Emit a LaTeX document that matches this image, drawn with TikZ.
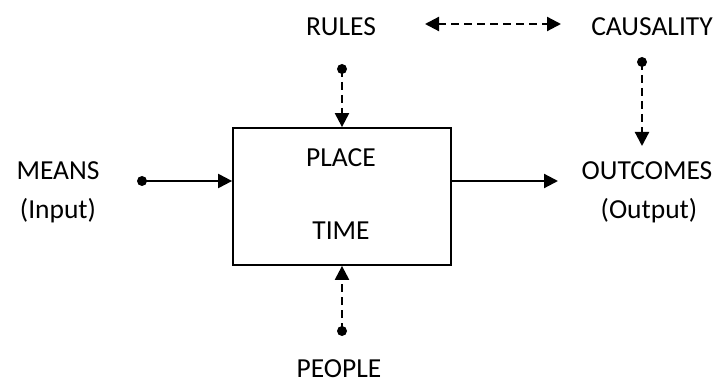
\documentclass[tikz,border=0pt]{standalone}
\usepackage{fontspec}
\setmainfont{Carlito}
\usetikzlibrary{arrows.meta}
\begin{document}
\begin{tikzpicture}[x=1pt,y=-1pt,
  lbl/.style={font=\fontsize{27.5}{32}\selectfont, inner sep=0pt, anchor=center},
  dot/.style={circle, fill=black, inner sep=0pt, minimum size=10pt},
  conn/.style={line width=2.2pt, -{Triangle[length=14pt,width=14pt]}},
  dconn/.style={conn, dash pattern=on 8pt off 5pt},
  box/.style={draw, line width=1.8pt, minimum width=218pt, minimum height=137pt, inner sep=0pt}]
\useasboundingbox (0,0) rectangle (719,387);
\node[box] (box) at (342,196.5) {};
\node[lbl] (place) at (341,158) {PLACE};
\node[lbl] (time) at (341,231) {TIME};
\node[lbl] (rules) at (341,27) {RULES};
\node[lbl] (caus) at (652,27) {CAUSALITY};
\node[lbl] (means) at (58,171) {MEANS};
\node[lbl] (input) at (58,211) {(Input)};
\node[lbl] (outc) at (647,171) {OUTCOMES};
\node[lbl] (outp) at (649,211) {(Output)};
\node[lbl] (people) at (339,369) {PEOPLE};
\node[dot] (rd) at (342,69) {};
\node[dot] (cd) at (642,62) {};
\node[dot] (md) at (142,181) {};
\node[dot] (pd) at (342,331) {};
\coordinate (al) at (425,24);
\coordinate (ar) at (561,24);
\coordinate (ot) at (558,181);
\coordinate (ct) at (642,146);
\draw[dconn, {Triangle[length=14pt,width=14pt]}-{Triangle[length=14pt,width=14pt]}] (al) -- (ar);
\draw[dconn] (rd.center) -- (rd.center |- box.north);
\draw[dconn] (pd.center) -- (pd.center |- box.south);
\draw[dconn] (cd.center) -- (ct);
\draw[conn] (md.center) -- (md.center -| box.west);
\draw[conn] (box.east |- ot) -- (ot);
\end{tikzpicture}
\end{document}
